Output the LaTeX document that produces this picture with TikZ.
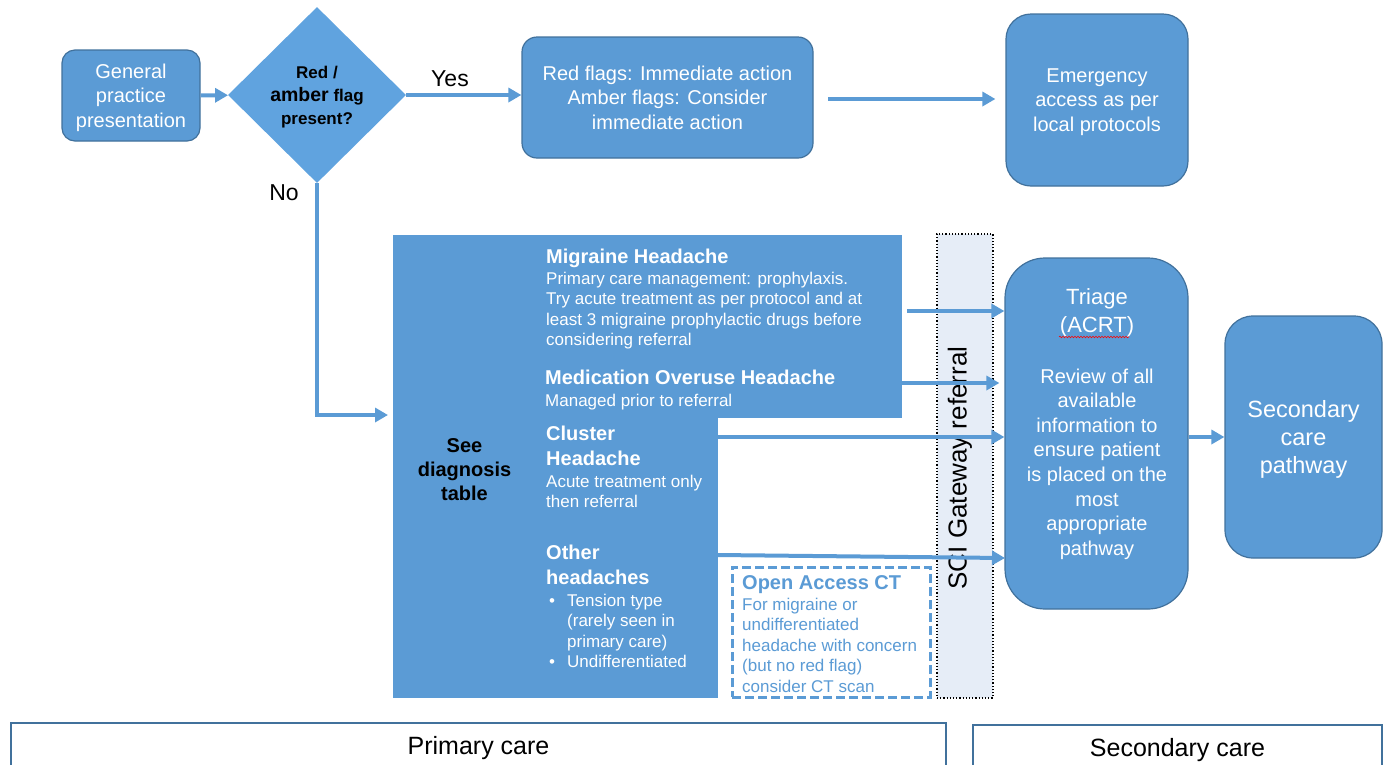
\documentclass[tikz,border=0pt]{standalone}
\usepackage{fontspec}
\setmainfont{Liberation Sans}
\usepackage{tikz}
\usetikzlibrary{arrows.meta,positioning,shapes.geometric,decorations.pathmorphing}
\definecolor{boxblue}{HTML}{5B9BD5}
\definecolor{boxline}{HTML}{41719C}
\definecolor{flagblue}{HTML}{60A3DF}
\definecolor{gatefill}{HTML}{E6EDF7}
\newcommand{\setfs}[2]{\fontsize{#1}{#2}\selectfont}
\tikzset{>={Triangle[length=13pt,width=14pt]},
         flow/.style={->,draw=boxblue,line width=4pt},
         block/.style={draw=boxline,line width=1.2pt,fill=boxblue,text=white,align=center,inner sep=0pt,text depth=0pt,font=\setfs{20}{24.5}},
         decision/.style={diamond,fill=flagblue,inner sep=0pt,align=center,text depth=0pt,font=\bfseries\setfs{17}{23}},
         diagpart/.style={fill=boxblue,inner sep=0pt,anchor=north west},
         headtext/.style={text=white,align=left,inner sep=0pt,anchor=north west,font=\bfseries\setfs{20}{25}},
         bodytext/.style={text=white,align=left,inner sep=0pt,anchor=north west,font=\setfs{17}{20.4}},
         caretext/.style={draw=boxline,line width=2pt,inner sep=0pt,anchor=north west,font=\setfs{25}{30}}}

\begin{document}
\begin{tikzpicture}[x=1pt,y=-1pt]
	\useasboundingbox (0,0) rectangle (1389,764);

	\node[block,rounded corners=13pt,minimum width=138pt,minimum height=91pt] (gp) at (131,95.5) {General\\practice\\presentation};
	\node[decision,minimum width=178pt,minimum height=176pt] (flag) at (317,95) {Red /\\{\setfs{19.5}{23}amber} flag\\present?};
	\node[block,rounded corners=15pt,minimum width=291pt,minimum height=121pt] (redamber) at (667.5,97.5) {Red flags: Immediate action\\Amber flags: Consider\\immediate action};
	\node[block,rounded corners=25pt,minimum width=182pt,minimum height=172pt] (emerg) at (1097,100) {Emergency\\access as per\\local protocols};

	\node[draw=black,dotted,line width=1.2pt,fill=gatefill,minimum width=56pt,minimum height=464pt,inner sep=0pt] (gate) at (965,466) {};
	\node[rotate=90,inner sep=0pt,font=\setfs{26}{30}] (gatetext) at (960,468) {SCI Gateway referral};

	\node[diagpart,minimum width=509pt,minimum height=183pt] (diagtop) at (393,235) {};
	\node[diagpart,minimum width=325pt,minimum height=281pt] (diaglow) at (393,417) {};
	\node[align=center,inner sep=0pt,font=\bfseries\setfs{20}{24}] (see) at (464.5,470) {See\\diagnosis\\table};
	\node[headtext] (mighead) at (546,249) {Migraine Headache};
	\node[bodytext] (migbody) at (546,272) {Primary care management: prophylaxis.\\Try acute treatment as per protocol and at\\least 3 migraine prophylactic drugs before\\considering referral};
	\node[headtext] (medhead) at (545,370) {Medication Overuse Headache};
	\node[bodytext] (medbody) at (545,394) {Managed prior to referral};
	\node[headtext] (clushead) at (546,426) {Cluster\\Headache};
	\node[bodytext] (clusbody) at (546,475) {Acute treatment only\\then referral};
	\node[headtext] (othhead) at (546,545) {Other\\headaches};
	\node[bodytext] (othbody) at (546,594) {\makebox[21pt][l]{\hspace{3pt}\textbullet}Tension type\\\hspace*{21pt}(rarely seen in\\\hspace*{21pt}primary care)\\\makebox[21pt][l]{\hspace{3pt}\textbullet}Undifferentiated};

	\node[draw=boxblue,fill=white,line width=3pt,dash pattern=on 9pt off 4pt,minimum width=198pt,minimum height=130pt,inner sep=0pt] (ct) at (831,632) {};
	\node[headtext,text=boxblue] (cthead) at (742,575) {Open Access CT};
	\node[bodytext,text=boxblue] (ctbody) at (742,598) {For migraine or\\undifferentiated\\headache with concern\\(but no red flag)\\consider CT scan};

	\node[block,rounded corners=40pt,minimum width=183pt,minimum height=351pt] (triage) at (1096.5,433.5) {};
	\node[text=white,align=center,inner sep=0pt,font=\setfs{22}{28}] (triagehead) at (1097,313) {Triage\\(ACRT)};
	\draw[red,line width=0.6pt,decorate,decoration={snake,amplitude=0.8pt,segment length=3pt}] (1059,337) -- (1129,337);
	\node[text=white,align=center,inner sep=0pt,font=\setfs{20}{24.6}] (triagebody) at (1097,464) {Review of all\\available\\information to\\ensure patient\\is placed on the\\most\\appropriate\\pathway};
	\node[block,rounded corners=28pt,minimum width=157pt,minimum height=242pt,font=\setfs{23.5}{28}] (secpath) at (1303.5,437) {Secondary\\care\\pathway};

	\coordinate (noend) at (393,415);
	\coordinate (emstart) at (828,99);
	\coordinate (migout) at (907,311);
	\coordinate (medout) at (902,383);
	\coordinate (clusout) at (718,437);
	\coordinate (othout) at (718,555);
	\coordinate (othin) at (1005,558);

	\draw[flow] (gp) -- (flag);
	\draw[flow] (flag.east) -- node[pos=0.38,above=3pt,font=\setfs{23}{27}] (yes) {Yes} (flag.east -| redamber.west);
	\draw[flow,shorten >=5pt] (flag.south) |- node[pos=0.02,left=13pt,font=\setfs{23}{27}] (no) {No} (noend);
	\draw[flow,shorten >=10pt] (emstart) -- (emstart -| emerg.west);
	\draw[flow] (migout) -- (migout -| triage.west);
	\draw[flow,shorten >=5pt] (medout) -- (medout -| triage.west);
	\draw[flow] (clusout) -- (clusout -| triage.west);
	\draw[flow] (othout) -- (othin);
	\draw[flow] (triage.east |- secpath.west) -- (secpath.west);

	\node[caretext,minimum width=935pt,minimum height=50pt] (primary) at (10,722) {Primary care};
	\node[caretext,minimum width=409pt,minimum height=50pt] (secondary) at (972,724) {Secondary care};
\end{tikzpicture}
\end{document}
